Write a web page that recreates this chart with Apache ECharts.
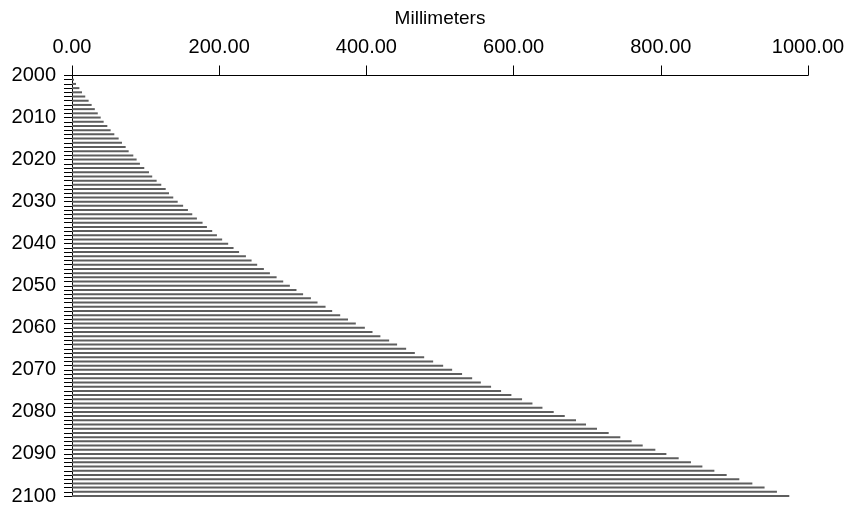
<!DOCTYPE html>
<html>
<head>
<meta charset="utf-8">
<script src="https://cdn.jsdelivr.net/npm/echarts@6/dist/echarts.min.js"></script>
<style>html,body{margin:0;padding:0;background:#fff}#c{width:850px;height:507px}</style>
</head>
<body>
<div id="c"></div>
<script>
const years = [];
for (let y = 2000; y <= 2100; y++) years.push(String(y));
const millimeters = [
  0, 2.7, 5.4, 10, 13.6, 18, 22.6, 26.7, 31, 35,
  39, 43, 48, 52.5, 57.5, 63.4, 67.9, 72.9, 77, 83.3,
  87.8, 92.3, 98.2, 104.6, 109, 115, 121.3, 127.3, 131.8, 137.6,
  143.6, 151, 157.5, 163.4, 169.7, 177.4, 183.3, 190.5, 196.9, 204,
  212.2, 219.5, 227, 236.3, 244, 251.6, 260.7, 268.9, 278, 287,
  296, 305, 314, 324.6, 333.6, 344.5, 353.5, 364.4, 375, 385.6,
  397.9, 408.3, 419, 430.9, 441.7, 454, 465.8, 478.5, 490.7, 504.3,
  516.5, 530, 543.7, 555.5, 569.4, 583, 597, 611.5, 625.6, 639.2,
  654.5, 669.5, 684.8, 698.4, 713.3, 729.2, 745, 760.4, 775.4, 792.6,
  807.6, 824.3, 841, 856.5, 872.8, 889.5, 906.7, 924.4, 941, 957.8,
  974.6
];
const xTicks = [0, 200, 400, 600, 800, 1000];
const axisTitle = 'Millimeters';

const chart = echarts.init(document.getElementById('c'), null, {renderer: 'canvas'});
const font = '"Liberation Sans", Arial, Helvetica, sans-serif';
chart.setOption({
  animation: false,
  backgroundColor: '#fff',
  grid: {left: 72, right: 42, top: 75.5, bottom: 11, containLabel: false},
  xAxis: {
    type: 'value',
    position: 'top',
    min: xTicks[0],
    max: xTicks[xTicks.length - 1],
    interval: 200,
    name: axisTitle,
    nameLocation: 'middle',
    nameGap: 47,
    nameTextStyle: {fontFamily: font, fontSize: 19, color: '#000'},
    axisLine: {show: true, lineStyle: {color: '#000', width: 1}},
    axisTick: {show: true, inside: false, length: 10, lineStyle: {color: '#000', width: 1}},
    axisLabel: {
      fontFamily: font, fontSize: 20, color: '#000', margin: 18,
      formatter: v => v.toFixed(2)
    },
    splitLine: {show: false}
  },
  yAxis: {
    type: 'category',
    data: years,
    inverse: true,
    boundaryGap: false,
    axisLine: {show: true, lineStyle: {color: '#000', width: 1}},
    axisTick: {show: true, interval: 0, length: 8, lineStyle: {color: '#000', width: 1}},
    axisLabel: {fontFamily: font, fontSize: 20, color: '#000', margin: 16, interval: 9},
    splitLine: {show: false}
  },
  series: [{
    type: 'bar',
    data: millimeters,
    barWidth: 2,
    itemStyle: {color: '#5e5e5e'},
    silent: true
  }]
});
</script>
</body>
</html>
